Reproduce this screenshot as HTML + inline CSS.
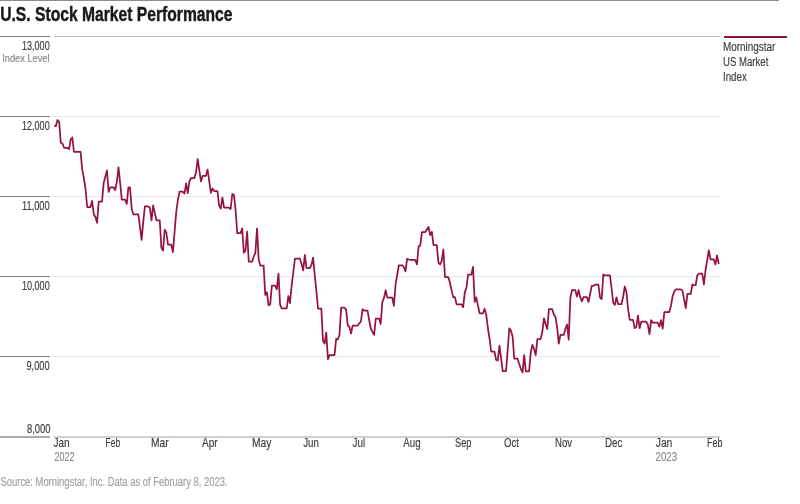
<!DOCTYPE html>
<html><head><meta charset="utf-8">
<style>
html,body{margin:0;padding:0;background:#fff;width:800px;height:504px;overflow:hidden}
svg{display:block;will-change:transform}
text{font-family:"Liberation Sans",sans-serif}
</style></head><body>
<svg width="800" height="504" viewBox="0 0 800 504">
<rect x="0" y="0" width="779" height="1" fill="#8c8c8c"/>
<rect x="54" y="116" width="666" height="1" fill="#e8e8e8"/>
<rect x="54" y="196" width="666" height="1" fill="#e8e8e8"/>
<rect x="54" y="276" width="666" height="1" fill="#e8e8e8"/>
<rect x="54" y="356" width="666" height="1" fill="#e8e8e8"/>
<rect x="54" y="36" width="666" height="1" fill="#bdbdbd"/>
<rect x="54" y="436" width="666" height="2" fill="#cfcfcf"/>
<rect x="0" y="36" width="50" height="1" fill="#7d7d7d"/>
<rect x="0" y="116" width="50" height="1" fill="#7d7d7d"/>
<rect x="0" y="196" width="50" height="1" fill="#7d7d7d"/>
<rect x="0" y="276" width="50" height="1" fill="#7d7d7d"/>
<rect x="0" y="356" width="50" height="1" fill="#7d7d7d"/>
<rect x="0" y="436" width="50" height="2" fill="#ababab"/>
<rect x="724" y="36" width="63" height="2" fill="#95133d"/>
<text x="0.20" y="21.00" font-size="20.60" fill="#1a1a1a" font-weight="bold" stroke="#1a1a1a" stroke-width="0.45" textLength="232.30" lengthAdjust="spacingAndGlyphs">U.S. Stock Market Performance</text>
<text x="22.00" y="50.30" font-size="12.10" fill="#3c3c3c" stroke="#3c3c3c" stroke-width="0.15" textLength="27.70" lengthAdjust="spacingAndGlyphs">13,000</text>
<text x="2.20" y="61.50" font-size="11.80" fill="#8a8a8a" stroke="#8a8a8a" stroke-width="0.2" textLength="47.30" lengthAdjust="spacingAndGlyphs">Index Level</text>
<text x="22.00" y="130.30" font-size="12.10" fill="#3c3c3c" stroke="#3c3c3c" stroke-width="0.15" textLength="27.70" lengthAdjust="spacingAndGlyphs">12,000</text>
<text x="22.00" y="210.30" font-size="12.10" fill="#3c3c3c" stroke="#3c3c3c" stroke-width="0.15" textLength="27.70" lengthAdjust="spacingAndGlyphs">11,000</text>
<text x="22.00" y="290.30" font-size="12.10" fill="#3c3c3c" stroke="#3c3c3c" stroke-width="0.15" textLength="27.70" lengthAdjust="spacingAndGlyphs">10,000</text>
<text x="26.50" y="370.30" font-size="12.10" fill="#3c3c3c" stroke="#3c3c3c" stroke-width="0.15" textLength="23.00" lengthAdjust="spacingAndGlyphs">9,000</text>
<text x="27.00" y="433.00" font-size="12.10" fill="#3c3c3c" stroke="#3c3c3c" stroke-width="0.15" textLength="23.60" lengthAdjust="spacingAndGlyphs">8,000</text>
<text x="723.00" y="51.40" font-size="12.00" fill="#3c3c3c" stroke="#3c3c3c" stroke-width="0.15" textLength="52.30" lengthAdjust="spacingAndGlyphs">Morningstar</text>
<text x="723.00" y="66.10" font-size="12.00" fill="#3c3c3c" stroke="#3c3c3c" stroke-width="0.15" textLength="45.30" lengthAdjust="spacingAndGlyphs">US Market</text>
<text x="723.00" y="81.00" font-size="12.00" fill="#3c3c3c" stroke="#3c3c3c" stroke-width="0.15" textLength="23.80" lengthAdjust="spacingAndGlyphs">Index</text>
<text x="53.50" y="446.70" font-size="12.20" fill="#3c3c3c" stroke="#3c3c3c" stroke-width="0.15" textLength="16.10" lengthAdjust="spacingAndGlyphs">Jan</text>
<text x="105.50" y="446.70" font-size="12.20" fill="#3c3c3c" stroke="#3c3c3c" stroke-width="0.15" textLength="14.60" lengthAdjust="spacingAndGlyphs">Feb</text>
<text x="151.10" y="446.70" font-size="12.20" fill="#3c3c3c" stroke="#3c3c3c" stroke-width="0.15" textLength="17.60" lengthAdjust="spacingAndGlyphs">Mar</text>
<text x="202.00" y="446.70" font-size="12.20" fill="#3c3c3c" stroke="#3c3c3c" stroke-width="0.15" textLength="15.60" lengthAdjust="spacingAndGlyphs">Apr</text>
<text x="252.00" y="446.70" font-size="12.20" fill="#3c3c3c" stroke="#3c3c3c" stroke-width="0.15" textLength="19.35" lengthAdjust="spacingAndGlyphs">May</text>
<text x="303.25" y="446.70" font-size="12.20" fill="#3c3c3c" stroke="#3c3c3c" stroke-width="0.15" textLength="15.60" lengthAdjust="spacingAndGlyphs">Jun</text>
<text x="352.50" y="446.70" font-size="12.20" fill="#3c3c3c" stroke="#3c3c3c" stroke-width="0.15" textLength="12.60" lengthAdjust="spacingAndGlyphs">Jul</text>
<text x="403.25" y="446.70" font-size="12.20" fill="#3c3c3c" stroke="#3c3c3c" stroke-width="0.15" textLength="17.35" lengthAdjust="spacingAndGlyphs">Aug</text>
<text x="455.00" y="446.70" font-size="12.20" fill="#3c3c3c" stroke="#3c3c3c" stroke-width="0.15" textLength="16.35" lengthAdjust="spacingAndGlyphs">Sep</text>
<text x="504.00" y="446.70" font-size="12.20" fill="#3c3c3c" stroke="#3c3c3c" stroke-width="0.15" textLength="14.85" lengthAdjust="spacingAndGlyphs">Oct</text>
<text x="555.00" y="446.70" font-size="12.20" fill="#3c3c3c" stroke="#3c3c3c" stroke-width="0.15" textLength="17.10" lengthAdjust="spacingAndGlyphs">Nov</text>
<text x="605.00" y="446.70" font-size="12.20" fill="#3c3c3c" stroke="#3c3c3c" stroke-width="0.15" textLength="17.35" lengthAdjust="spacingAndGlyphs">Dec</text>
<text x="655.75" y="446.70" font-size="12.20" fill="#3c3c3c" stroke="#3c3c3c" stroke-width="0.15" textLength="16.60" lengthAdjust="spacingAndGlyphs">Jan</text>
<text x="707.00" y="446.70" font-size="12.20" fill="#3c3c3c" stroke="#3c3c3c" stroke-width="0.15" textLength="15.35" lengthAdjust="spacingAndGlyphs">Feb</text>
<text x="54.50" y="460.60" font-size="12.20" fill="#8a8a8a" stroke="#8a8a8a" stroke-width="0.15" textLength="19.90" lengthAdjust="spacingAndGlyphs">2022</text>
<text x="655.55" y="460.60" font-size="12.20" fill="#8a8a8a" stroke="#8a8a8a" stroke-width="0.15" textLength="21.50" lengthAdjust="spacingAndGlyphs">2023</text>
<text x="0.50" y="486.10" font-size="12.50" fill="#a0a0a0" stroke="#a0a0a0" stroke-width="0.15" textLength="227.00" lengthAdjust="spacingAndGlyphs">Source: Morningstar, Inc. Data as of February 8, 2023.</text>
<path d="M54.20,126.20 L55.85,126.20 L57.50,120.00 L59.15,121.90 L60.80,142.80 L62.45,143.50 L64.09,147.80 L67.39,147.80 L69.04,149.20 L70.69,139.40 L72.34,137.50 L73.99,151.90 L80.58,151.90 L82.23,169.70 L83.88,178.00 L85.53,189.20 L87.18,207.00 L90.48,207.00 L92.13,201.00 L93.78,214.20 L95.43,217.00 L97.07,222.80 L98.72,201.70 L102.02,201.70 L103.67,182.90 L105.32,176.70 L106.97,170.40 L108.62,192.00 L110.27,187.30 L113.56,187.30 L115.21,190.10 L116.86,181.60 L118.51,167.30 L120.16,183.00 L121.81,199.70 L125.11,199.70 L126.76,204.00 L128.41,187.30 L130.05,187.70 L131.70,208.80 L133.35,214.40 L138.30,214.40 L139.95,226.70 L141.60,239.80 L143.25,222.00 L144.90,206.40 L148.19,206.40 L149.84,207.50 L151.49,220.30 L153.14,205.50 L154.79,212.90 L156.44,220.30 L159.74,220.30 L161.38,247.60 L163.03,250.60 L164.68,229.80 L166.33,232.50 L167.98,244.60 L171.28,244.60 L172.93,252.10 L174.58,232.00 L176.23,212.00 L177.88,200.00 L179.52,191.70 L182.82,191.70 L184.47,193.70 L186.12,183.30 L187.77,193.20 L189.42,181.30 L191.07,178.00 L194.37,178.00 L196.01,172.40 L197.66,159.00 L199.31,170.00 L200.96,181.40 L202.61,175.90 L205.91,175.90 L207.56,169.60 L209.21,180.80 L210.86,192.80 L212.50,188.50 L214.15,191.00 L217.45,191.00 L219.10,205.40 L220.75,208.70 L222.40,197.50 L224.05,207.60 L228.99,207.60 L230.64,209.00 L232.29,194.00 L233.94,194.80 L235.59,209.80 L237.24,233.20 L240.54,233.20 L242.19,228.30 L243.83,252.80 L245.48,250.50 L247.13,231.70 L248.78,261.70 L252.08,261.70 L253.73,256.70 L255.38,252.80 L257.03,228.30 L258.68,259.40 L260.32,265.60 L263.62,265.60 L265.27,295.00 L266.92,292.30 L268.57,305.40 L270.22,304.20 L271.87,285.70 L275.17,285.70 L276.81,289.30 L278.46,273.60 L280.11,304.80 L281.76,308.30 L286.71,308.30 L288.36,296.00 L290.01,303.10 L291.66,285.30 L293.31,272.20 L294.95,258.50 L299.90,258.50 L301.55,263.90 L303.20,270.40 L304.85,254.90 L306.50,268.00 L309.80,268.00 L311.44,265.00 L313.09,257.70 L314.74,275.00 L316.39,291.00 L318.04,308.60 L321.34,308.60 L322.99,340.80 L324.64,343.60 L326.28,332.50 L327.93,359.20 L329.58,355.00 L334.53,355.00 L336.18,338.75 L337.83,339.40 L339.48,335.00 L341.13,307.70 L344.42,307.70 L346.07,309.60 L347.72,325.10 L349.37,326.90 L351.02,333.50 L352.67,325.50 L357.62,325.50 L359.26,323.30 L360.91,321.50 L362.56,309.30 L364.21,310.50 L367.51,310.50 L369.16,320.00 L370.81,328.50 L372.46,331.80 L374.11,334.80 L375.75,318.50 L379.05,318.50 L380.70,324.00 L382.35,302.00 L384.00,297.90 L385.65,290.10 L387.30,297.50 L392.25,297.50 L393.89,305.90 L395.54,284.80 L397.19,275.00 L398.84,265.30 L402.14,265.30 L403.79,267.00 L405.44,271.40 L407.09,258.90 L408.74,259.50 L410.38,259.80 L413.68,259.80 L415.33,260.20 L416.98,264.30 L418.63,246.20 L420.28,245.60 L421.93,232.10 L425.22,232.10 L426.87,229.50 L428.52,226.90 L430.17,235.20 L431.82,231.90 L433.47,245.00 L436.77,245.00 L438.42,262.60 L440.07,264.30 L441.71,261.00 L443.36,249.50 L445.01,277.00 L448.31,277.00 L449.96,282.80 L451.61,290.60 L453.26,297.10 L454.91,297.10 L456.56,304.30 L461.50,304.30 L463.15,307.20 L464.80,292.40 L466.45,287.60 L468.10,274.50 L471.40,274.50 L473.05,266.80 L474.69,301.90 L476.34,297.40 L477.99,305.90 L479.64,313.30 L482.94,313.30 L484.59,308.80 L486.24,314.80 L487.89,328.00 L489.54,338.50 L491.19,351.50 L494.48,351.50 L496.13,359.90 L497.78,360.50 L499.43,345.60 L501.08,358.10 L502.73,371.20 L506.03,371.20 L507.68,350.00 L509.32,328.30 L510.97,330.70 L512.62,336.70 L514.27,358.70 L517.57,358.70 L519.22,364.00 L520.87,368.80 L522.52,372.40 L524.17,355.10 L525.81,371.40 L529.11,371.40 L530.76,352.10 L532.41,344.80 L534.06,349.00 L535.71,355.10 L537.36,339.00 L540.65,339.00 L542.30,332.00 L543.95,318.30 L545.60,324.00 L547.25,329.00 L548.90,309.20 L552.20,309.20 L553.85,314.50 L555.50,316.90 L557.14,327.60 L558.79,343.70 L560.44,334.90 L563.74,334.90 L565.39,328.80 L567.04,324.60 L568.69,339.70 L570.34,297.90 L571.99,290.10 L575.28,290.10 L576.93,296.60 L578.58,290.00 L580.23,297.20 L581.88,301.30 L583.53,297.20 L586.83,297.20 L588.48,301.90 L590.12,294.00 L591.77,285.90 L593.42,285.90 L595.07,284.70 L598.37,284.70 L600.02,297.50 L601.67,299.00 L603.32,274.40 L604.97,275.40 L609.91,275.40 L611.56,288.00 L613.21,302.70 L614.86,304.90 L616.51,297.30 L618.16,304.20 L621.46,304.20 L623.11,297.00 L624.75,286.50 L626.40,291.90 L628.05,308.60 L629.70,319.90 L633.00,319.90 L634.65,328.20 L636.30,327.00 L637.95,315.50 L639.60,328.20 L641.24,321.70 L646.19,321.70 L647.84,324.60 L649.49,334.20 L651.14,320.20 L652.79,322.60 L657.73,322.60 L659.38,326.80 L661.03,320.20 L662.68,328.60 L664.33,312.10 L669.28,312.10 L670.93,306.00 L672.58,296.30 L674.22,291.50 L675.87,289.30 L680.82,289.30 L682.47,290.70 L684.12,299.30 L685.77,308.20 L687.42,293.90 L690.71,293.90 L692.36,284.30 L694.01,285.40 L695.66,285.00 L697.31,275.40 L698.96,273.60 L702.26,273.60 L703.91,284.30 L705.56,270.00 L707.20,260.00 L708.85,250.40 L710.50,259.30 L713.80,259.30 L715.45,264.40 L717.10,255.30 L718.75,264.00" fill="none" stroke="#95133d" stroke-width="1.75" stroke-linejoin="round" stroke-linecap="butt"/>
</svg>
</body></html>
